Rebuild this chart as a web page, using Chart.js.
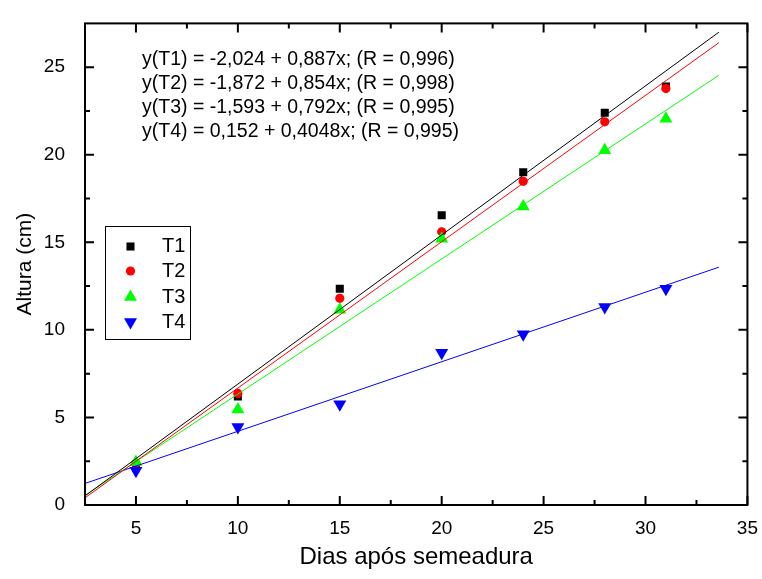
<!DOCTYPE html>
<html>
<head>
<meta charset="utf-8">
<script src="https://cdn.jsdelivr.net/npm/chart.js@4"></script>
<style>
  html, body { margin: 0; background: #fff; }
  #wrap { width: 762px; height: 579px; }
</style>
</head>
<body>
<div id="wrap"><canvas id="chart"></canvas></div>
<script>
// dias após semeadura e alturas medidas (cm)
const days = [5, 10, 15, 20, 24, 28, 31];
const t1 = [2.3, 6.2, 12.35, 16.55, 19.0, 22.4, 23.9];
const t2 = [2.35, 6.37, 11.8, 15.6, 18.48, 21.88, 23.78];
const t3 = [2.45, 5.45, 11.15, 15.2, 17.05, 20.25, 22.05];
const t4 = [1.95, 4.45, 5.75, 8.7, 9.75, 11.3, 12.35];

// retas ajustadas (extremos)
const fitX = [2.5, 33.6];
const fitT1 = [0.52, 27.0];
const fitT2 = [0.41, 26.4];
const fitT3 = [0.55, 24.54];
const fitT4 = [1.23, 13.58];

const xTicks = [5, 10, 15, 20, 25, 30, 35];
const xMinor = [7.5, 12.5, 17.5, 22.5, 27.5, 32.5];
const yTicks = [0, 5, 10, 15, 20, 25];
const yMinor = [2.5, 7.5, 12.5, 17.5, 22.5];

const equations = [
  "y(T1) = -2,024 + 0,887x; (R = 0,996)",
  "y(T2) = -1,872 + 0,854x; (R = 0,998)",
  "y(T3) = -1,593 + 0,792x; (R = 0,995)",
  "y(T4) = 0,152 + 0,4048x; (R = 0,995)"
];

const FONT = "'Liberation Sans', Arial, sans-serif";
Chart.defaults.font.family = FONT;
Chart.defaults.color = "#000";

const pts = (ys, xs = days) => xs.map((x, i) => ({ x, y: ys[i] }));

const series = [
  { label: "T1", data: t1, color: "#000000", style: "rect", radius: 5.7, rotation: 0, order: 4 },
  { label: "T2", data: t2, color: "#ff0000", style: "circle", radius: 4.6, rotation: 0, order: 3 },
  { label: "T3", data: t3, color: "#00ff00", style: "triangle", radius: 7.5, rotation: 0, order: 2 },
  { label: "T4", data: t4, color: "#0000ff", style: "triangle", radius: 7.5, rotation: 180, order: 1 }
];
const fits = [fitT1, fitT2, fitT3, fitT4];

const datasets = [];
series.forEach((s, i) => {
  datasets.push({
    label: s.label,
    data: pts(s.data),
    pointStyle: s.style,
    pointRadius: s.radius,
    pointRotation: s.rotation,
    pointBackgroundColor: s.color,
    pointBorderWidth: 0,
    showLine: false,
    order: s.order
  });
  datasets.push({
    label: s.label + " fit",
    data: pts(fits[i], fitX),
    showLine: true,
    borderColor: s.color,
    borderWidth: 1,
    pointRadius: 0,
    order: 0
  });
});

const frame = {
  id: "frame",
  afterDraw(chart) {
    const { ctx, chartArea: a, scales: { x, y } } = chart;
    ctx.save();
    ctx.strokeStyle = "#000";
    ctx.lineWidth = 2;
    ctx.strokeRect(a.left, a.top, a.right - a.left, a.bottom - a.top);
    const tick = (vals, len) => {
      vals.forEach((v) => {
        const px = x.getPixelForValue(v);
        ctx.moveTo(px, a.bottom); ctx.lineTo(px, a.bottom - len);
        ctx.moveTo(px, a.top); ctx.lineTo(px, a.top + len);
      });
    };
    const ytick = (vals, len) => {
      vals.forEach((v) => {
        const py = y.getPixelForValue(v);
        ctx.moveTo(a.left, py); ctx.lineTo(a.left + len, py);
        ctx.moveTo(a.right, py); ctx.lineTo(a.right - len, py);
      });
    };
    ctx.beginPath();
    tick(xTicks, 9); tick(xMinor, 5);
    ytick(yTicks, 9); ytick(yMinor, 5);
    ctx.stroke();

    // equações
    ctx.fillStyle = "#000";
    ctx.font = "19.5px " + FONT;
    ctx.textBaseline = "middle";
    equations.forEach((t, i) => ctx.fillText(t, 142, 59.5 + i * 24));

    // legenda
    ctx.lineWidth = 1;
    ctx.strokeRect(105.5, 226.5, 85, 113);
    ctx.font = "20px " + FONT;
    const rows = [246.5, 271, 297, 322];
    series.forEach((s, i) => {
      ctx.fillStyle = s.color;
      Chart.helpers.drawPoint(ctx, {
        pointStyle: s.style, radius: s.radius, rotation: s.rotation, borderWidth: 0
      }, 130.5, rows[i]);
      ctx.fillStyle = "#000";
      ctx.fillText(s.label, 162, rows[i]);
    });
    ctx.restore();
  }
};

new Chart(document.getElementById("chart"), {
  type: "scatter",
  data: { datasets },
  options: {
    responsive: true,
    maintainAspectRatio: false,
    animation: false,
    layout: { padding: { left: 0, top: 11, right: 0, bottom: 0 } },
    plugins: { legend: { display: false }, tooltip: { enabled: false } },
    scales: {
      x: {
        type: "linear",
        min: 2.5,
        max: 35,
        afterBuildTicks: (s) => { s.ticks = xTicks.map((v) => ({ value: v })); },
        afterFit: (s) => { s.height = 74; },
        grid: { display: false },
        border: { display: false },
        ticks: { autoSkip: false, maxRotation: 0, padding: 4, font: { size: 19 } },
        title: { display: true, text: "Dias após semeadura", font: { size: 24 }, padding: { top: 7, bottom: 7 } }
      },
      y: {
        type: "linear",
        min: 0,
        max: 27.5,
        afterBuildTicks: (s) => { s.ticks = yTicks.map((v) => ({ value: v })); },
        afterFit: (s) => { s.width = 85; },
        grid: { display: false },
        border: { display: false },
        ticks: { padding: 12, font: { size: 19 } },
        title: { display: true, text: "Altura (cm)", font: { size: 21 }, padding: { top: 13, bottom: 13 } }
      }
    }
  },
  plugins: [frame]
});
</script>
</body>
</html>
